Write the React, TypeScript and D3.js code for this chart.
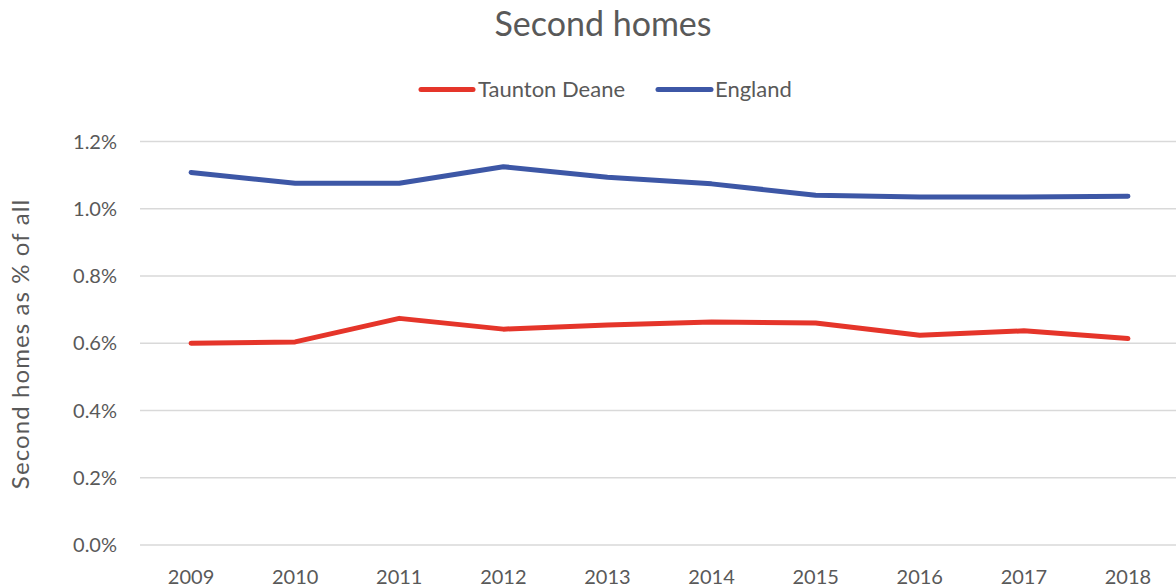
import React from "react";
import * as d3 from "d3";

const years = ["2009", "2010", "2011", "2012", "2013", "2014", "2015", "2016", "2017", "2018"];
const tauntonDeane = [0.600, 0.604, 0.674, 0.642, 0.654, 0.663, 0.660, 0.624, 0.637, 0.614];
const england = [1.108, 1.076, 1.076, 1.125, 1.094, 1.074, 1.040, 1.035, 1.035, 1.037];
const yTicks = [0, 0.2, 0.4, 0.6, 0.8, 1.0, 1.2];
const seriesNames = ["Taunton Deane", "England"];
const seriesColors = ["#E5352A", "#3D57A6"];

const W = 1176;
const H = 588;
const FONT = "Lato, 'Open Sans', sans-serif";
const TEXT = "#595959";

export default function App() {
  const x = d3.scaleBand<string>().domain(years).range([139, 1180]);
  const y = d3.scaleLinear().domain([0, 1.2]).range([545, 141.5]);
  const line = d3
    .line<number>()
    .x((_, i) => (x(years[i]) as number) + x.bandwidth() / 2)
    .y((d) => y(d));
  const series = [tauntonDeane, england];

  return (
    <svg
      width={W}
      height={H}
      style={{ position: "absolute", left: 0, top: 0, background: "#fff" }}
    >
      <text x={603} y={36} textAnchor="middle" fontFamily={FONT} fontSize={34} fill={TEXT}>
        Second homes
      </text>
      {/* legend */}
      <g>
        <line x1={421} x2={473} y1={89.5} y2={89.5} stroke={seriesColors[0]} strokeWidth={5} strokeLinecap="round" />
        <text x={478} y={97} fontFamily={FONT} fontSize={22} fill={TEXT}>{seriesNames[0]}</text>
        <line x1={658} x2={711} y1={89.5} y2={89.5} stroke={seriesColors[1]} strokeWidth={5} strokeLinecap="round" />
        <text x={715} y={97} fontFamily={FONT} fontSize={22} fill={TEXT}>{seriesNames[1]}</text>
      </g>
      {/* grid */}
      {yTicks.map((t) => (
        <g key={t}>
          <line x1={140} x2={1180} y1={y(t)} y2={y(t)} stroke="#D9D9D9" strokeWidth={1.5} />
          <text x={117} y={y(t) + 7} textAnchor="end" fontFamily={FONT} fontSize={20} fill={TEXT}>
            {d3.format(".1f")(t) + "%"}
          </text>
        </g>
      ))}
      {years.map((yr) => (
        <text
          key={yr}
          x={(x(yr) as number) + x.bandwidth() / 2}
          y={584}
          textAnchor="middle"
          fontFamily={FONT}
          fontSize={20}
          fill={TEXT}
        >
          {yr}
        </text>
      ))}
      <text
        transform={`translate(29,344) rotate(-90)`}
        textAnchor="middle"
        fontFamily={FONT}
        fontSize={24}
        letterSpacing={1.1}
        fill={TEXT}
      >
        Second homes as % of all
      </text>
      {series.map((s, i) => (
        <path
          key={i}
          d={line(s) as string}
          fill="none"
          stroke={seriesColors[i]}
          strokeWidth={5}
          strokeLinecap="round"
          strokeLinejoin="round"
        />
      ))}
    </svg>
  );
}
